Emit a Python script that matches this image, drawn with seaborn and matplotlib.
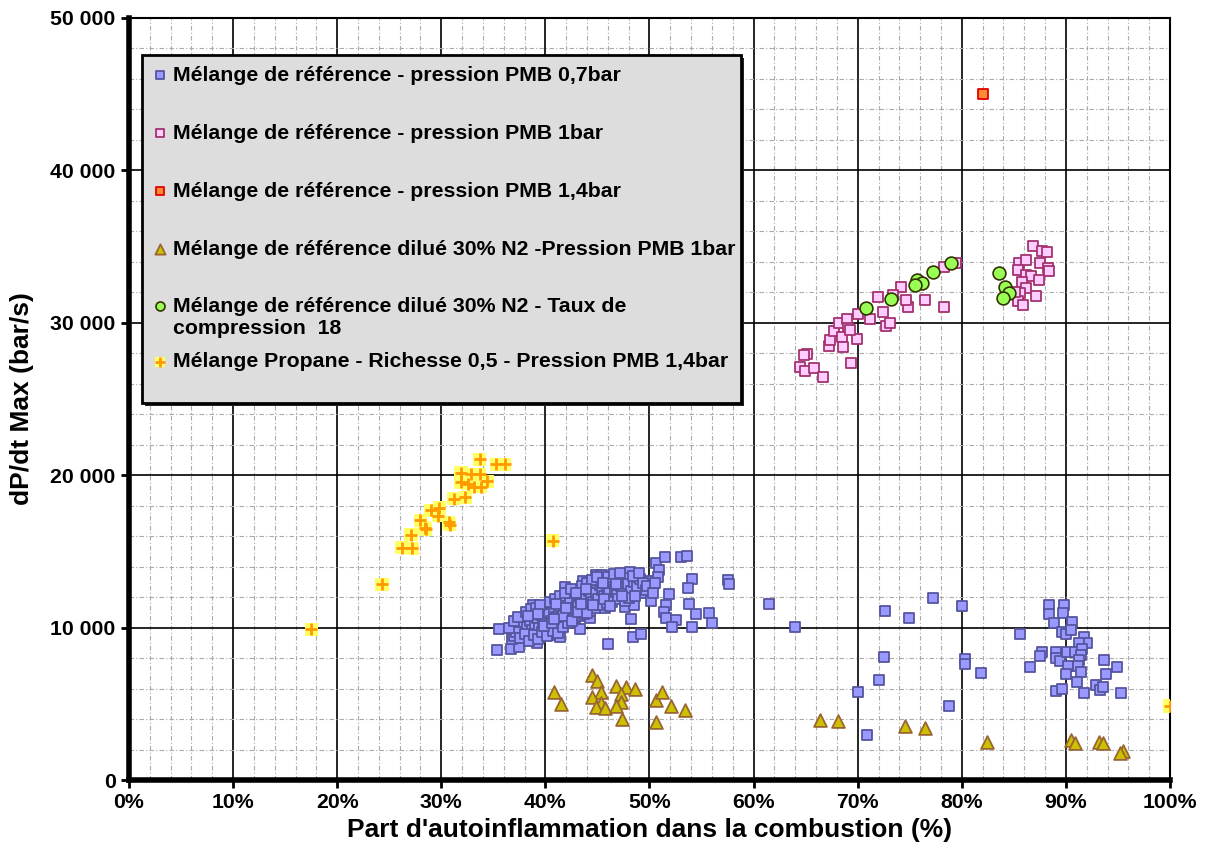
import numpy as np
import pandas as pd
import seaborn as sns
import matplotlib.pyplot as plt
from matplotlib.ticker import MultipleLocator, FixedLocator
from matplotlib.legend_handler import HandlerTuple, HandlerPathCollection
from matplotlib.patches import Rectangle

# Data (x in %, y in bar/s)

# Mélange de référence - pression PMB 0,7bar
ref07_x = [35.5, 35.4, 36.7, 37.5, 36.8, 37.0, 38.0, 39.2, 37.5, 38.0, 38.8, 39.0, 39.5, 39.6, 40.4,
           41.4, 40.5, 40.9, 41.4, 41.8, 41.9, 42.7, 42.8, 43.3, 43.6, 44.3, 44.9, 45.4, 45.9, 44.6,
           45.7, 46.0, 46.8, 47.0, 47.6, 47.8, 48.1, 48.3, 48.0, 48.5, 48.2, 48.4, 49.2, 49.4, 49.4,
           50.1, 50.0, 50.6, 50.9, 50.8, 51.5, 51.9, 51.6, 51.4, 51.6, 52.5, 52.2, 53.0, 53.6, 54.1,
           53.7, 53.8, 54.5, 54.1, 55.7, 56.0, 57.5, 57.6,
           37.8, 38.2, 38.5, 38.7, 39.0, 39.2, 39.4, 39.6, 39.8, 40.0, 40.1, 40.3, 40.5, 40.6, 40.8,
           41.0, 41.1, 41.3, 41.5, 41.6, 41.8, 42.0, 42.1, 42.3, 42.4, 42.6, 42.8, 43.0, 43.1, 43.3,
           43.4, 43.6, 43.8, 43.9, 44.1, 44.2, 44.4, 44.6, 44.7, 44.9, 45.1, 45.2, 45.4, 45.6, 45.8,
           45.9, 46.1, 46.3, 46.5, 46.7, 46.9, 47.1, 47.3, 47.5, 47.7, 47.9, 48.2, 48.5, 48.8, 49.1,
           49.4, 49.7, 37.2, 37.6, 38.0, 38.4, 38.9, 39.3, 39.7, 40.2, 40.7, 41.2, 41.7, 42.2, 42.7,
           43.2, 43.7, 44.3, 44.8, 45.3, 45.9, 46.4, 47.0, 47.6, 48.0, 36.5, 37.0, 37.4, 38.1, 38.6,
           39.1, 39.5, 40.4, 40.9, 41.4, 41.9, 42.5, 43.5, 44.0, 44.5, 45.0, 46.0, 46.6, 47.2, 48.4,
           49.0, 49.8, 50.3, 50.5, 41.0, 42.9, 43.9, 45.5, 46.8, 48.6,
           39.9, 40.6, 41.7, 42.6, 43.1, 44.0, 44.6, 45.6, 46.2, 47.4, 38.3, 39.3, 40.8, 42.0, 43.4,
           61.5, 64.0, 72.6, 74.9, 77.2, 80.0, 72.5, 72.0, 70.0, 70.9, 78.8, 80.3, 80.3, 81.8,
           85.6, 86.5, 88.4, 88.4, 89.8, 89.7, 88.9, 90.6, 89.6, 90.0, 90.5, 91.7, 92.0, 91.3, 87.7,
           87.5, 89.0, 89.0, 89.4, 90.1, 90.9, 91.5, 91.4, 91.3, 90.2, 90.0, 91.2, 91.4, 91.1, 93.7,
           93.8, 94.9, 89.0, 89.6, 91.7, 92.9, 93.3, 93.6, 95.3]
ref07_y = [9890, 8530, 8600, 8710, 9250, 9450, 9300, 8970, 10610, 10170, 11460, 11040, 9400, 10500, 9510,
           9360, 11040, 11700, 10940, 11590, 12690, 11810, 10280, 9890, 13080, 10610, 13450, 13450, 12800, 12360,
           11270, 8920, 13390, 12470, 11370, 13010, 13670, 12580, 12070, 11480, 10560, 9400, 9580, 12800, 12250,
           11770, 13080, 14260, 13780, 13300, 14610, 12190, 11480, 11000, 10610, 10500, 10020, 14610, 14700, 13170,
           12580, 11550, 10890, 10020, 10980, 10280, 13100, 12850,
           10300, 10050, 10400, 9850, 10250, 10600, 10000, 10800, 10350, 10650, 9950, 10900, 10450, 10150, 11200,
           10700, 10350, 11000, 11350, 10600, 10950, 11500, 11150, 10800, 11700, 11300, 11000, 11800, 11450, 12000,
           11200, 11650, 12200, 11850, 11500, 12400, 12050, 11700, 12600, 12250, 11900, 12800, 12450, 12100, 13000,
           12650, 12300, 11800, 12900, 12500, 12150, 13100, 12750, 12300, 13250, 12850, 12400, 13000, 12650, 13200,
           12900, 12450, 9700, 9300, 9600, 9100, 9500, 9250, 9700, 9450, 9800, 9650, 10050, 10300, 10550,
           10750, 10900, 11100, 11300, 11500, 11600, 11700, 11900, 11750, 11950, 10000, 10400, 10700, 11000, 11200,
           11300, 11500, 11700, 11900, 12100, 12300, 12500, 12700, 12900, 13100, 13300, 13300, 13500, 13600, 13400,
           13550, 12700, 12300, 12900, 11550, 12300, 12500, 12950, 12850, 12100,
           10100, 10300, 10750, 10450, 11000, 10950, 11450, 11900, 11400, 12100, 10750, 10900, 10550, 11300, 11550,
           11550, 10020, 11090, 10650, 11920, 11420, 8090, 6560, 5750, 2930, 4860, 7940, 7590, 7000,
           9560, 7430, 11480, 10890, 11480, 10940, 10280, 10390, 9730, 9560, 9840, 9400, 8970, 9010, 8420,
           8140, 8420, 8030, 7830, 8420, 8420, 8580, 8200, 7870, 7480, 6960, 7480, 7110, 6410, 7870,
           6940, 7400, 5840, 5950, 5690, 6230, 5910, 6120, 5690]

# Mélange de référence - pression PMB 1bar
ref1_x = [65.1, 64.8, 64.5, 64.9, 65.8, 66.7, 69.4, 67.2, 67.3, 67.7, 68.2, 69.0, 69.1, 68.5, 68.6,
          69.9, 69.3, 70.0, 71.2, 71.9, 72.4, 72.7, 73.1, 74.2, 74.8, 74.6, 73.4, 76.5, 78.3, 78.3,
          79.4, 86.8, 87.7, 88.2, 85.5, 86.2, 87.5, 88.3, 88.4, 85.4, 86.2, 86.6, 87.4, 85.8, 86.2,
          85.6, 87.1, 85.4, 85.9, 85.1]
ref1_y = [27930, 27870, 27120, 26860, 27060, 26470, 27390, 28480, 28870, 29460, 29970, 30250, 29680, 29050, 28430,
          28940, 29530, 30580, 30230, 31680, 30730, 29790, 29970, 32370, 31060, 31500, 31830, 31480, 31020, 33640,
          33900, 35040, 34730, 34670, 33950, 34120, 33950, 33620, 33420, 33470, 33140, 33070, 32810, 32700, 32270,
          31940, 31760, 31430, 31170, 32040]

# Mélange de référence - pression PMB 1,4bar
ref14_x = [82.0]
ref14_y = [45000]

# Mélange de référence dilué 30% N2 - Pression PMB 1bar
dil_x = [44.5, 45.0, 40.8, 41.5, 45.3, 44.5, 45.3, 44.9, 45.7, 46.8, 47.7, 48.6, 47.3, 47.3, 46.8,
         47.4, 50.6, 51.2, 52.1, 53.4, 50.6, 66.4, 68.1, 74.5, 76.5, 82.4, 90.5, 90.9, 93.2, 93.6,
         95.5, 95.2]
dil_y = [6890, 6500, 5750, 4970, 5790, 5430, 5070, 4810, 4700, 6190, 6120, 5970, 5640, 5140, 4860,
         3980, 5250, 5750, 4860, 4590, 3830, 3940, 3870, 3540, 3430, 2470, 2620, 2410, 2520, 2410,
         1920, 1750]

# Mélange de référence dilué 30% N2 - Taux de compression 18
tc18_x = [70.8, 73.2, 75.7, 76.2, 75.5, 77.2, 79.0, 83.6, 84.1, 84.5, 84.0]
tc18_y = [30950, 31580, 32810, 32630, 32480, 33360, 33910, 33250, 32370, 31980, 31650]

# Mélange Propane - Richesse 0,5 - Pression PMB 1,4bar
prop_x = [17.5, 24.3, 26.2, 27.2, 27.1, 28.0, 28.4, 28.5, 29.0, 29.8, 29.7, 30.7, 30.8, 31.2, 32.3,
          31.9, 31.9, 32.9, 33.7, 33.8, 33.1, 32.6, 34.4, 33.7, 35.3, 36.1, 40.7, 100.0]
prop_y = [9900, 12850, 15250, 15200, 16100, 17050, 16550, 16450, 17700, 17850, 17350, 16900, 16750, 18450, 18550,
          20150, 19550, 20050, 20050, 19250, 19250, 19450, 19600, 21050, 20700, 20700, 15700, 4850]

labels = ["Mélange de référence - pression PMB 0,7bar",
          "Mélange de référence - pression PMB 1bar",
          "Mélange de référence - pression PMB 1,4bar",
          "Mélange de référence dilué 30% N2 -Pression PMB 1bar",
          "Mélange de référence dilué 30% N2 - Taux de\ncompression  18",
          "Mélange Propane - Richesse 0,5 - Pression PMB 1,4bar"]

x_ticks = [0, 10, 20, 30, 40, 50, 60, 70, 80, 90, 100]
x_ticklabels = ["0%", "10%", "20%", "30%", "40%", "50%", "60%", "70%", "80%", "90%", "100%"]
y_ticks = [0, 10000, 20000, 30000, 40000, 50000]
y_ticklabels = ["0", "10 000", "20 000", "30 000", "40 000", "50 000"]

sns.set_theme(style="white")
plt.rcParams['font.family'] = ['Liberation Sans', 'DejaVu Sans']
plt.rcParams['font.weight'] = 'bold'
plt.rcParams['text.color'] = 'black'
plt.rcParams['axes.labelcolor'] = 'black'

fig = plt.figure(figsize=(12.05, 8.52), dpi=100)
ax = fig.add_axes([0.107, 0.0845, 0.864, 0.8945])

df07 = pd.DataFrame({'x': ref07_x, 'y': ref07_y})
df1 = pd.DataFrame({'x': ref1_x, 'y': ref1_y})
df14 = pd.DataFrame({'x': ref14_x, 'y': ref14_y})
dfdil = pd.DataFrame({'x': dil_x, 'y': dil_y})
dftc = pd.DataFrame({'x': tc18_x, 'y': tc18_y})
dfprop = pd.DataFrame({'x': prop_x, 'y': prop_y})

sns.scatterplot(data=df07, x='x', y='y', ax=ax, marker='s', s=60, color='#9999FF',
                edgecolor='#55559E', linewidth=1.3, label=labels[0], zorder=3)
sns.scatterplot(data=df1, x='x', y='y', ax=ax, marker='s', s=50, color='#FFCCFF',
                edgecolor='#A3336F', linewidth=1.3, label=labels[1], zorder=3)
sns.scatterplot(data=df14, x='x', y='y', ax=ax, marker='s', s=50, color='#FF8C33',
                edgecolor='#E60000', linewidth=1.3, label=labels[2], zorder=3)
sns.scatterplot(data=dfdil, x='x', y='y', ax=ax, marker='^', s=85, color='#CCC000',
                edgecolor='#996633', linewidth=1.3, label=labels[3], zorder=3)
sns.scatterplot(data=dftc, x='x', y='y', ax=ax, marker='o', s=85, color='#99FF55',
                edgecolor='#333300', linewidth=1.2, label=labels[4], zorder=4)
sns.scatterplot(data=dfprop, x='x', y='y', ax=ax, marker='s', s=90, color='#FFFF66',
                edgecolor='none', linewidth=0, label='_prop_bg', zorder=4)
prop_bg = ax.collections[-1]
sns.scatterplot(data=dfprop, x='x', y='y', ax=ax, marker='+', s=75, color='#FF9900',
                linewidth=2, label=labels[5], zorder=5)
prop_fg = ax.collections[-1]

ax.set_xlim(0, 100)
ax.set_ylim(0, 50000)
ax.xaxis.set_major_locator(FixedLocator(x_ticks))
ax.yaxis.set_major_locator(FixedLocator(y_ticks))
ax.set_xticklabels(x_ticklabels)
ax.set_yticklabels(y_ticklabels)
ax.xaxis.set_minor_locator(MultipleLocator(2))
ax.yaxis.set_minor_locator(MultipleLocator(2000))
ax.grid(True, which='major', color='black', linewidth=1.2, zorder=1)
ax.grid(True, which='minor', color='#AAAAAA', linewidth=0.8, linestyle=(0, (4, 2, 1, 2)), zorder=0)
ax.set_axisbelow(True)

for side in ['top', 'right']:
    ax.spines[side].set_linewidth(1.5)
    ax.spines[side].set_color('black')
for side in ['left', 'bottom']:
    ax.spines[side].set_linewidth(4)
    ax.spines[side].set_color('black')
ax.tick_params(axis='both', which='major', labelsize=15.3, length=6, width=2, direction='out',
               bottom=True, left=True, colors='black')
ax.tick_params(axis='both', which='minor', length=0)
for lbl in ax.get_xticklabels() + ax.get_yticklabels():
    lbl.set_fontweight('bold')

ax.set_xlabel("Part d'autoinflammation dans la combustion (%)", fontsize=19, fontweight='bold', labelpad=4)
ax.set_ylabel("dP/dt Max (bar/s)", fontsize=19, fontweight='bold', labelpad=12)

# legend box (grey panel with dark shadow), drawn as a patch so the padding matches
shadow = Rectangle((0.0155, 0.491), 0.5755, 0.456, transform=ax.transAxes,
                   facecolor='#222222', edgecolor='none', zorder=8)
panel = Rectangle((0.0125, 0.495), 0.5755, 0.456, transform=ax.transAxes,
                  facecolor='#DDDDDD', edgecolor='black', linewidth=2, zorder=9)
ax.add_patch(shadow)
ax.add_patch(panel)

handles, leg_labels = ax.get_legend_handles_labels()
hmap = dict(zip(leg_labels, handles))
leg_opts = dict(prop={'size': 15.3, 'weight': 'bold'}, frameon=False,
                handlelength=0.6, handletextpad=0.3, borderpad=0.5,
                borderaxespad=0, markerscale=0.8)

# first five entries; the two-line entry keeps its marker on the first line
green_h = hmap[labels[4]]
leg = ax.legend([hmap[l] for l in labels[:5]], labels[:5], loc='upper left',
                bbox_to_anchor=(0.0135, 0.951), labelspacing=1.83,
                handler_map={green_h: HandlerPathCollection(yoffsets=[1.3], sizes=[42])},
                **leg_opts)
leg.set_zorder(10)
ax.add_artist(leg)

# propane entry (yellow square + orange cross)
leg2 = ax.legend([(prop_bg, prop_fg)], labels[5:], loc='center left',
                 bbox_to_anchor=(0.0135, 0.5486),
                 handler_map={tuple: HandlerTuple(ndivide=1)}, **leg_opts)
leg2.set_zorder(10)

fig.savefig('out.png', dpi=100)
